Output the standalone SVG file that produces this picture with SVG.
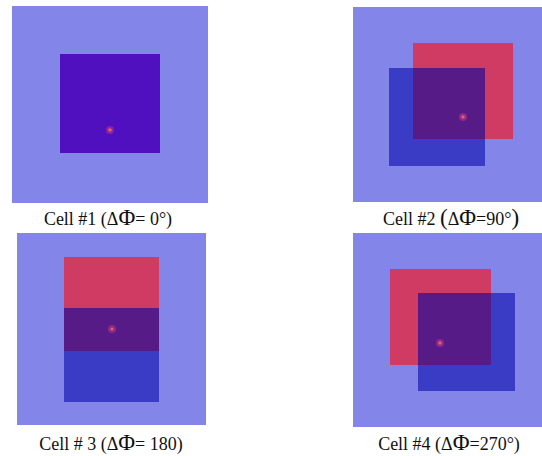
<svg xmlns="http://www.w3.org/2000/svg" width="542" height="456" viewBox="0 0 542 456">
<style>
.bg{fill:#8485e8}
.red{fill:#cf3b63}
.blue{fill:#3a3cc6}
.ov{fill:#561b86}
.c1{fill:#5010bf}
.dot{fill:#f05a5a}
.halo{fill:#c03a90;opacity:0.5}
text{font-size:18px;fill:#111;text-anchor:middle}
.phi{font-size:23px}
</style>
<rect width="542" height="456" fill="#ffffff"/>
<g id="cell1">
<rect class="bg" x="12" y="6" width="196" height="197"/>
<rect class="c1" x="60" y="54" width="100" height="99"/>
<circle class="halo" cx="110" cy="130" r="4"/>
<circle class="dot" cx="110" cy="130" r="1.8"/>
<text x="108" y="225" font-family="Times New Roman, Liberation Serif, serif">Cell #1 (Δ<tspan class="phi">Φ</tspan>= 0°)</text>
</g>
<g id="cell2">
<rect class="bg" x="353" y="7" width="189" height="195"/>
<rect class="red" x="413" y="43" width="100" height="96"/>
<rect class="blue" x="389" y="68" width="96" height="98"/>
<rect class="ov" x="413" y="68" width="72" height="71"/>
<circle class="halo" cx="463" cy="117" r="4"/>
<circle class="dot" cx="463" cy="117" r="1.8"/>
<text x="451" y="225" font-family="Times New Roman, Liberation Serif, serif">Cell #2 <tspan class="phi">(</tspan>Δ<tspan class="phi">Φ</tspan>=90°<tspan class="phi">)</tspan></text>
</g>
<g id="cell3">
<rect class="bg" x="17" y="233" width="189" height="192"/>
<rect class="red" x="64" y="257" width="95" height="51"/>
<rect class="ov" x="64" y="308" width="95" height="43"/>
<rect class="blue" x="64" y="351" width="95" height="51"/>
<circle class="halo" cx="112" cy="329" r="4"/>
<circle class="dot" cx="112" cy="329" r="1.6"/>
<text x="111" y="450" font-family="Times New Roman, Liberation Serif, serif">Cell # 3 (Δ<tspan class="phi">Φ</tspan>= 180)</text>
</g>
<g id="cell4">
<rect class="bg" x="353" y="233" width="189" height="194"/>
<rect class="red" x="390" y="269" width="101" height="96"/>
<rect class="blue" x="418" y="293" width="97" height="98"/>
<rect class="ov" x="418" y="293" width="73" height="72"/>
<circle class="halo" cx="440" cy="343" r="4"/>
<circle class="dot" cx="440" cy="343" r="1.8"/>
<text x="449" y="450" font-family="Times New Roman, Liberation Serif, serif">Cell #4 (Δ<tspan class="phi">Φ</tspan>=270°)</text>
</g>
<g id="connectors"/>
</svg>
